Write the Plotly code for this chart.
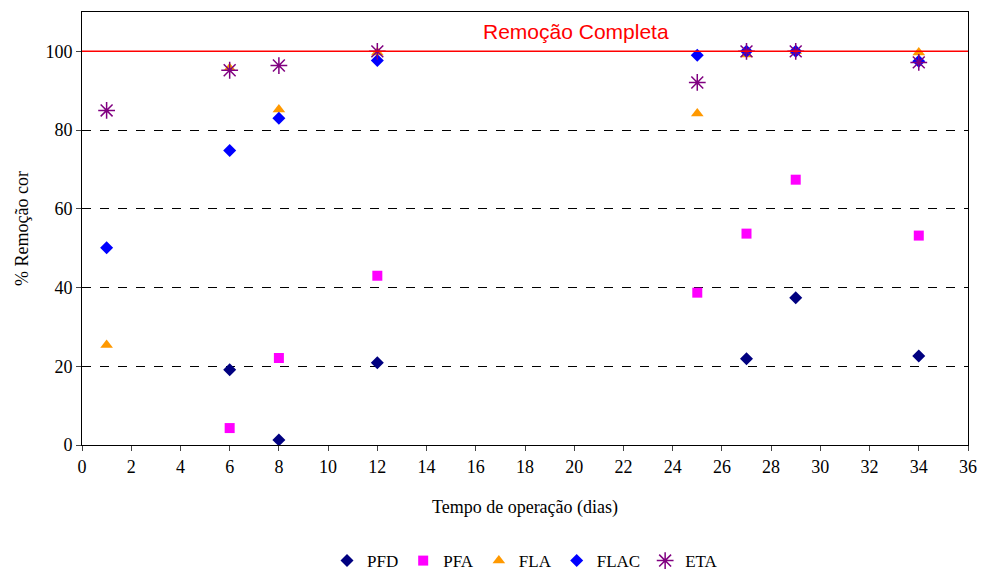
import plotly.graph_objects as go

pfd_x = [6, 8, 12, 27, 29, 34]
pfd_y = [19.1, 1.3, 20.9, 21.9, 37.4, 22.6]
pfa_x = [6, 8, 12, 25, 27, 29, 34]
pfa_y = [4.3, 22.1, 43.0, 38.7, 53.7, 67.4, 53.2]
fla_x = [1, 6, 8, 12, 25, 27, 29, 34]
fla_y = [25.4, 95.7, 85.2, 99.7, 84.2, 99.2, 100.0, 99.7]
flac_x = [1, 6, 8, 12, 25, 27, 29, 34]
flac_y = [50.1, 74.8, 83.0, 97.7, 99.0, 100.0, 100.0, 97.5]
eta_x = [1, 6, 8, 12, 25, 27, 29, 34]
eta_y = [85.0, 95.2, 96.4, 100.0, 92.1, 100.0, 100.0, 97.2]

x_ticks = list(range(0, 37, 2))
y_ticks = [0, 20, 40, 60, 80, 100]

serif = "Liberation Serif, Times New Roman, serif"

fig = go.Figure()
fig.add_trace(go.Scatter(x=pfd_x, y=pfd_y, mode="markers", name="PFD",
                         marker=dict(symbol="diamond", color="#000080", size=10)))
fig.add_trace(go.Scatter(x=pfa_x, y=pfa_y, mode="markers", name="PFA",
                         marker=dict(symbol="square", color="#FF00FF", size=10)))
fig.add_trace(go.Scatter(x=fla_x, y=fla_y, mode="markers", name="FLA",
                         marker=dict(symbol="triangle-up", color="#FF9900", size=11)))
fig.add_trace(go.Scatter(x=flac_x, y=flac_y, mode="markers", name="FLAC",
                         marker=dict(symbol="diamond", color="#0000FF", size=10)))
fig.add_trace(go.Scatter(x=eta_x, y=eta_y, mode="markers", name="ETA",
                         marker=dict(symbol="asterisk-open", color="#800080", size=14,
                                     line=dict(color="#800080", width=1.5))))

fig.add_shape(type="line", xref="paper", x0=0, x1=1, yref="y", y0=100, y1=100,
              line=dict(color="#FF0000", width=1.5))
fig.add_annotation(x=0.558, xref="paper", y=105, yref="y", text="Remoção Completa",
                   showarrow=False, font=dict(family="Liberation Sans, Arial, sans-serif",
                                              size=21, color="#FF0000"))

fig.update_layout(
    width=983, height=571,
    margin=dict(l=82, r=15, t=12, b=126, autoexpand=False),
    paper_bgcolor="white", plot_bgcolor="white",
    font=dict(family=serif, size=18, color="black"),
    showlegend=True,
    legend=dict(orientation="h", x=0.5, xanchor="center", y=-0.268, yanchor="middle",
                font=dict(family=serif, size=17), itemwidth=30, tracegroupgap=0),
    xaxis=dict(range=[0, 36], tickvals=x_ticks, ticks="outside", ticklen=5,
               tickfont=dict(family=serif, size=18),
               showline=True, linecolor="black", linewidth=1, mirror=True,
               showgrid=False, zeroline=False, automargin=False,
               title=dict(text="Tempo de operação (dias)", standoff=24,
                          font=dict(family=serif, size=18))),
    yaxis=dict(range=[0, 110], tickvals=y_ticks, ticks="outside", ticklen=5,
               tickfont=dict(family=serif, size=18),
               showline=True, linecolor="black", linewidth=1, mirror=True,
               showgrid=True, gridcolor="black", griddash="dash", gridwidth=1,
               zeroline=False, automargin=False,
               title=dict(text="% Remoção cor", standoff=12,
                          font=dict(family=serif, size=18))),
)

fig.write_html("out.html", config={"displayModeBar": False},
               post_script="document.body.style.margin='0';document.body.style.overflow='hidden';")
